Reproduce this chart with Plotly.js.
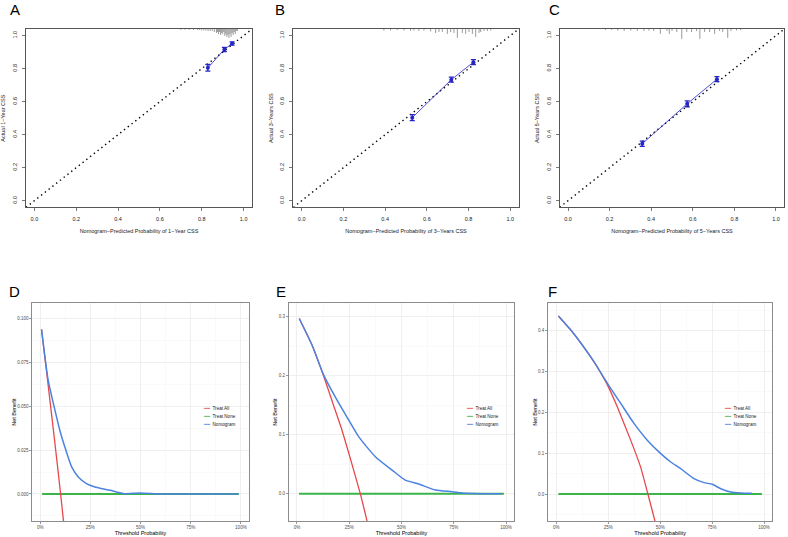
<!DOCTYPE html>
<html>
<head>
<meta charset="utf-8">
<script src="https://cdn.plot.ly/plotly-3.0.1.min.js"></script>
<style>html,body{margin:0;padding:0;background:#fff;}#chart{width:788px;height:537px;}</style>
</head>
<body>
<div id="chart"></div>
<script>
// ---------- Calibration data (A, B, C) ----------
const calA_pred = [0.829, 0.908, 0.945];
const calA_obs  = [0.805, 0.916, 0.952];
const calA_err  = [0.020, 0.013, 0.010];

const calB_pred = [0.530, 0.717, 0.823];
const calB_obs  = [0.503, 0.733, 0.839];
const calB_err  = [0.018, 0.015, 0.015];

const calC_pred = [0.357, 0.573, 0.716];
const calC_obs  = [0.345, 0.587, 0.736];
const calC_err  = [0.016, 0.018, 0.015];

const idealLine = [-0.04, 1.04];
const rugTop = 1.04;

// rug (distribution of predicted probabilities) : position and tick length
const rugA_x   = [0.70,0.72,0.74,0.76,0.78,0.79,0.80,0.81,0.82,0.83,0.84,0.85,0.86,0.87,0.875,0.88,0.885,0.89,0.895,0.90,0.905,0.91,0.915,0.92,0.925,0.93,0.935,0.94,0.945,0.95,0.955,0.96,0.965,0.97];
const rugA_len = [0.005,0.005,0.005,0.006,0.006,0.006,0.009,0.009,0.009,0.012,0.012,0.012,0.018,0.024,0.018,0.030,0.018,0.036,0.024,0.030,0.018,0.042,0.030,0.048,0.036,0.054,0.030,0.048,0.024,0.036,0.018,0.030,0.012,0.012];

const rugB_x   = [0.394,0.426,0.458,0.490,0.522,0.538,0.562,0.586,0.618,0.642,0.658,0.674,0.698,0.714,0.730,0.746,0.770,0.786,0.802,0.818,0.834,0.850,0.858,0.874,0.890,0.906];
const rugB_len = [0.009,0.009,0.006,0.009,0.012,0.009,0.012,0.009,0.015,0.024,0.018,0.018,0.030,0.018,0.024,0.054,0.024,0.030,0.018,0.030,0.048,0.024,0.018,0.012,0.012,0.009];

const rugC_x   = [0.180,0.210,0.239,0.270,0.302,0.333,0.365,0.389,0.412,0.444,0.476,0.487,0.500,0.523,0.547,0.571,0.594,0.618,0.634,0.657,0.681,0.705,0.729,0.744,0.768,0.784,0.810,0.830];
const rugC_len = [0.006,0.006,0.009,0.012,0.009,0.012,0.012,0.009,0.012,0.030,0.012,0.030,0.012,0.018,0.060,0.018,0.018,0.012,0.060,0.018,0.018,0.030,0.012,0.018,0.054,0.012,0.009,0.006];

// ---------- Decision curve data (D, E, F) ----------
const noneThr = [0.01, 0.99];
const noneNB  = [0, 0];

const nomD_thr = [0.007,0.040,0.070,0.098,0.123,0.157,0.190,0.231,0.273,0.348,0.414,0.497,0.597,0.700,0.800,0.900,0.988];
const nomD_nb  = [0.0937,0.0648,0.0496,0.0363,0.0268,0.0154,0.0097,0.0059,0.0040,0.0021,0.0002,0.0006,0.0000,0.0000,0.0000,0.0000,0.0000];
const allD_thr = [0.007,0.030,0.050,0.070,0.090,0.102,0.114,0.130];
const allD_nb  = [0.0937,0.0717,0.0522,0.0325,0.0124,0.0000,-0.0128,-0.0300];

const nomE_thr = [0.011,0.072,0.128,0.183,0.247,0.295,0.375,0.455,0.518,0.582,0.662,0.742,0.806,0.900,0.980];
const nomE_nb  = [0.297,0.252,0.201,0.164,0.125,0.0966,0.0627,0.040,0.023,0.0164,0.0063,0.0034,0.0007,0.0000,0.0000];
const allE_thr = [0.011,0.072,0.128,0.170,0.215,0.263,0.303,0.335,0.360];
const allE_nb  = [0.297,0.252,0.199,0.155,0.108,0.050,0.000,-0.046,-0.083];

const nomF_thr = [0.010,0.069,0.125,0.181,0.246,0.310,0.374,0.438,0.503,0.551,0.599,0.663,0.711,0.751,0.792,0.840,0.888,0.941];
const nomF_nb  = [0.436,0.402,0.365,0.324,0.271,0.222,0.173,0.132,0.099,0.0785,0.062,0.0378,0.028,0.0238,0.013,0.005,0.0025,0.0017];
const allF_thr = [0.010,0.069,0.125,0.181,0.210,0.250,0.294,0.358,0.406,0.441,0.479,0.500];
const allF_nb  = [0.436,0.402,0.365,0.324,0.300,0.263,0.213,0.132,0.066,0.000,-0.074,-0.118];

const panelLetters = ['A','B','C','D','E','F'];
const legendNames = ['Treat All','Treat None','Nomogram'];
const calXTitles = ['Nomogram\u2212Predicted Probability of 1\u2212Year CSS','Nomogram\u2212Predicted Probability of 3\u2212Years CSS','Nomogram\u2212Predicted Probability of 5\u2212Years CSS'];
const calYTitles = ['Actual 1\u2212Year CSS','Actual 3\u2212Years CSS','Actual 5\u2212Years CSS'];

// ---------- styling ----------
const W = 788, H = 537;
const FONT = 'Liberation Sans, Arial, Helvetica, sans-serif';
const RED = '#E8484A', GREEN = '#3BB44A', BLUE = '#4C82E0', CALBLUE = '#2424C8';
function xd(l, r){ return [l / W, r / W]; }
function yd(t, b){ return [1 - b / H, 1 - t / H]; }

const calBoxes = [[26,252],[293.3,518.7],[559.7,784.3]];
const calTB = [29,207.3];
const dcaBoxes = [[32.3,248.7],[288.8,514.2],[548.2,772.1]];
const dcaTB = [303.3,521];
const dcaYRanges = [[-0.0154,0.1086],[-0.0463,0.3227],[-0.066,0.467]];
const dcaYDtick = [0.025,0.1,0.1];
const dcaYFmt = ['.3f','.1f','.1f'];

function rugSeg(xs, lens){
  const x = [], y = [];
  xs.forEach((v,i)=>{ x.push(v, v, null); y.push(rugTop, rugTop - lens[i], null); });
  return {x, y};
}

const data = [];
const cals = [
  [calA_pred, calA_obs, calA_err, rugA_x, rugA_len],
  [calB_pred, calB_obs, calB_err, rugB_x, rugB_len],
  [calC_pred, calC_obs, calC_err, rugC_x, rugC_len]
];
cals.forEach((c, i) => {
  const xa = 'x' + (i === 0 ? '' : i + 1), ya = 'y' + (i === 0 ? '' : i + 1);
  const r = rugSeg(c[3], c[4]);
  data.push({x: r.x, y: r.y, xaxis: xa, yaxis: ya, mode: 'lines', line: {color: '#808080', width: 0.8}, showlegend: false, hoverinfo: 'skip'});
  data.push({x: idealLine, y: idealLine, xaxis: xa, yaxis: ya, mode: 'lines', line: {color: '#000', width: 1.4, dash: '1.4px,3.4px'}, showlegend: false});
  data.push({x: c[0], y: c[1], xaxis: xa, yaxis: ya, mode: 'lines+markers',
    line: {color: CALBLUE, width: 0.8}, marker: {color: CALBLUE, size: 4},
    error_y: {type: 'data', array: c[2], visible: true, color: CALBLUE, thickness: 1.3, width: 2.5},
    showlegend: false});
});

const dcas = [
  [allD_thr, allD_nb, nomD_thr, nomD_nb],
  [allE_thr, allE_nb, nomE_thr, nomE_nb],
  [allF_thr, allF_nb, nomF_thr, nomF_nb]
];
dcas.forEach((d, i) => {
  const xa = 'x' + (i + 4), ya = 'y' + (i + 4);
  data.push({x: noneThr, y: noneNB, xaxis: xa, yaxis: ya, mode: 'lines', name: legendNames[1], line: {color: GREEN, width: 2}, showlegend: false});
  data.push({x: d[0], y: d[1], xaxis: xa, yaxis: ya, mode: 'lines', name: legendNames[0], line: {color: RED, width: 1.3, shape: 'spline', smoothing: 0.5}, showlegend: false});
  data.push({x: d[2], y: d[3], xaxis: xa, yaxis: ya, mode: 'lines', name: legendNames[2], line: {color: BLUE, width: 1.5, shape: 'spline', smoothing: 0.6}, showlegend: false});
});

const layout = {
  width: W, height: H,
  margin: {l: 0, r: 0, t: 0, b: 0},
  paper_bgcolor: '#fff', plot_bgcolor: '#fff',
  font: {family: FONT, color: '#000'},
  showlegend: false,
  annotations: [],
};

calBoxes.forEach((b, i) => {
  const k = i === 0 ? '' : i + 1;
  layout['xaxis' + k] = {
    domain: xd(b[0], b[1]), anchor: 'y' + k, range: [-0.04, 1.04], tick0: 0, dtick: 0.2, tickformat: '.1f',
    showgrid: false, zeroline: false, showline: true, mirror: true, linecolor: '#555', linewidth: 1,
    ticks: 'outside', ticklen: 3, tickcolor: '#555', tickwidth: 0.8, ticklabelstandoff: 3,
    tickfont: {family: FONT, size: 5.5, color: '#222'},
    title: {text: calXTitles[i], font: {family: FONT, size: 5.5, color: '#222'}, standoff: 8}
  };
  layout['yaxis' + k] = {
    domain: yd(calTB[0], calTB[1]), anchor: 'x' + k, range: [-0.04, 1.04], tick0: 0, dtick: 0.2, tickformat: '.1f',
    showgrid: false, zeroline: false, showline: true, mirror: true, linecolor: '#555', linewidth: 1,
    ticks: 'outside', ticklen: 3, tickcolor: '#555', tickwidth: 0.8, tickangle: -90, ticklabelstandoff: 3,
    tickfont: {family: FONT, size: 5.5, color: '#222'},
    title: {text: calYTitles[i], font: {family: FONT, size: 5.5, color: '#222'}, standoff: 5}
  };
});

dcaBoxes.forEach((b, i) => {
  const k = i + 4;
  layout['xaxis' + k] = {
    domain: xd(b[0], b[1]), anchor: 'y' + k, range: [-0.039, 1.039], tick0: 0, dtick: 0.25, tickformat: '.0%',
    showgrid: true, gridcolor: '#EBEBEB', gridwidth: 0.8,
    minor: {showgrid: true, gridcolor: '#F5F5F5', gridwidth: 0.5, dtick: 0.125, ticks: ''},
    zeroline: false, showline: true, mirror: true, linecolor: '#8C8C8C', linewidth: 1,
    ticks: 'outside', ticklen: 2, tickcolor: '#555', tickwidth: 0.6,
    tickfont: {family: FONT, size: 4.5, color: '#4D4D4D'},
    title: {text: 'Threshold Probability', font: {family: FONT, size: 5.5, color: '#000'}, standoff: 0}
  };
  layout['yaxis' + k] = {
    domain: yd(dcaTB[0], dcaTB[1]), anchor: 'x' + k, range: dcaYRanges[i], tick0: 0, dtick: dcaYDtick[i], tickformat: dcaYFmt[i],
    showgrid: true, gridcolor: '#EBEBEB', gridwidth: 0.8,
    minor: {showgrid: true, gridcolor: '#F5F5F5', gridwidth: 0.5, dtick: dcaYDtick[i] / 2, ticks: ''},
    zeroline: false, showline: true, mirror: true, linecolor: '#8C8C8C', linewidth: 1,
    ticks: 'outside', ticklen: 2, tickcolor: '#555', tickwidth: 0.6,
    tickfont: {family: FONT, size: 4.5, color: '#4D4D4D'},
    title: {text: 'Net Benefit', font: {family: FONT, size: 5.5, color: '#000'}, standoff: 0}
  };
  // legend as compact text entries in the panel
  const legColors = [RED, GREEN, BLUE];
  legendNames.forEach((nm, j) => {
    layout.annotations.push({xref: 'x' + k, yref: 'paper', x: 0.80, y: 1 - (408.3 + j * 8.3) / H,
      text: '<span style="color:' + legColors[j] + '">\u2501\u2501</span>  ' + nm, showarrow: false,
      xanchor: 'left', yanchor: 'middle', font: {family: FONT, size: 4.6, color: '#222'}});
  });
});

// panel letters
const letterPos = [[15,10],[280,10],[554,10],[14,291],[281,291],[552,291]];
panelLetters.forEach((L, i) => {
  layout.annotations.push({xref: 'paper', yref: 'paper', x: letterPos[i][0] / W, y: 1 - letterPos[i][1] / H,
    text: L, showarrow: false, xanchor: 'center', yanchor: 'middle', font: {family: FONT, size: 15, color: '#000'}});
});

Plotly.newPlot('chart', data, layout, {staticPlot: true, displayModeBar: false});
</script>
</body>
</html>
